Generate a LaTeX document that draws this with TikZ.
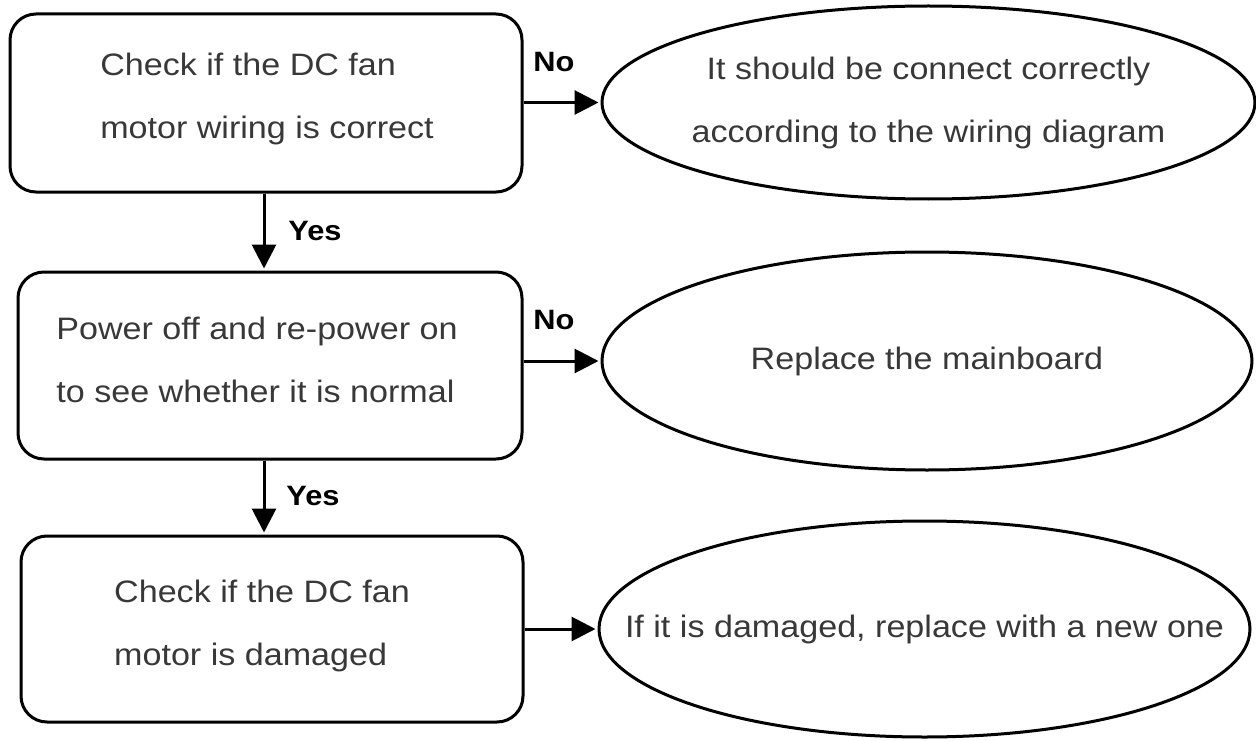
\documentclass[tikz,border=0pt]{standalone}
\usepackage{fontspec}
\setmainfont{Liberation Sans}[FakeStretch=1.1]
\usetikzlibrary{shapes.geometric,arrows.meta}
\definecolor{txt}{HTML}{383838}
\tikzset{
  body/.style={text=txt, font=\fontsize{31}{63}\selectfont, inner sep=0pt},
  box/.style={draw, line width=3pt, rounded corners=26pt, inner sep=0pt},
  oval/.style={draw, ellipse, line width=3pt, inner sep=0pt},
  arr/.style={line width=3pt, shorten >=2pt, -{Triangle[length=24pt,width=24pt]}},
  lab/.style={font=\bfseries\fontsize{28}{34}\selectfont, text=black, inner sep=0pt}
}
\begin{document}
\begin{tikzpicture}[x=1pt,y=-1pt]
\useasboundingbox (0,0) rectangle (1256,741);
\node[box, minimum width=512pt, minimum height=178pt,
  label={[body, align=left, xshift=1pt, yshift=4pt]center:Check if the DC fan\\motor wiring is correct}] (b1) at (266,103) {};
\node[box, minimum width=504pt, minimum height=187pt,
  label={[body, align=left, xshift=-13pt, yshift=6pt]center:Power off and re-power on\\to see whether it is normal}] (b2) at (270,365.5) {};
\node[box, minimum width=502pt, minimum height=186pt,
  label={[body, align=left, xshift=-10pt, yshift=3pt]center:Check if the DC fan\\motor is damaged}] (b3) at (272,629) {};
\node[oval, minimum width=653pt, minimum height=193pt,
  label={[body, align=center]center:It should be connect correctly\\according to the wiring diagram}] (e1) at (928.5,102.5) {};
\node[oval, minimum width=650pt, minimum height=218pt,
  label={[body]center:Replace the mainboard}] (e2) at (927,361) {};
\node[oval, minimum width=651pt, minimum height=216pt,
  label={[body]center:If it is damaged, replace with a new one}] (e3) at (924.5,629) {};
\draw[arr] (b1.east |- e1.west) -- (e1.west);
\draw[arr] (b2.east |- e2.west) -- (e2.west);
\draw[arr] (b3.east |- e3.west) -- (e3.west);
\draw[arr] (b1.south -| 264,0) -- (b2.north -| 264,0);
\draw[arr] (b2.south -| 264,0) -- (b3.north -| 264,0);
\node[lab] (n1) at (554,62) {No};
\node[lab] (n2) at (554,320) {No};
\node[lab] (y1) at (315,231) {Yes};
\node[lab] (y2) at (313,496) {Yes};
\end{tikzpicture}
\end{document}
